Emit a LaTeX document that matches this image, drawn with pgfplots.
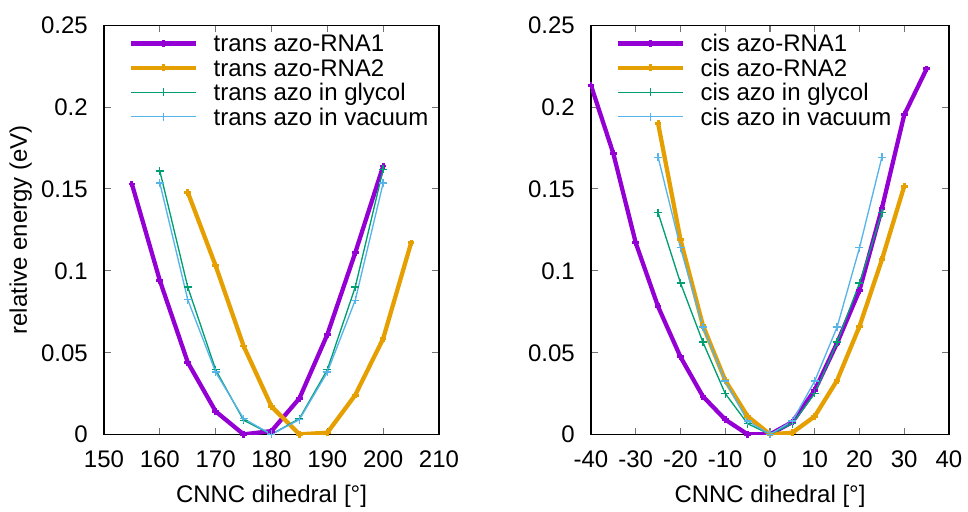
\documentclass[border=0pt]{standalone}
\usepackage{pgfplots}
\pgfplotsset{compat=1.18}
\usepackage{fontspec}
\setmainfont{Liberation Sans}

\definecolor{gpPurple}{RGB}{148,0,211}
\definecolor{gpOrange}{RGB}{230,159,0}
\definecolor{gpGreen}{RGB}{0,158,115}
\definecolor{gpBlue}{RGB}{86,180,233}

\pgfplotsset{
  gp/.style={
    scale only axis,
    height=306.75pt,
    ymin=0, ymax=0.25,
    ytick={0,0.05,0.1,0.15,0.2,0.25},
    yticklabels={0,0.05,0.1,0.15,0.2,0.25},
    font=\fontsize{18}{21.6}\selectfont,
    tick align=inside,
    major tick length=5pt,
    axis line style={line width=1pt},
    tick style={line width=0.8pt, black!55},
    xticklabel style={/pgf/number format/assume math mode=true, anchor=base, inner sep=0pt, yshift=-24.75pt},
    yticklabel style={anchor=base east, inner sep=0pt, xshift=-12pt, yshift=-6.45pt},
    xlabel style={at={(axis description cs:0.5,0)}, anchor=base, yshift=-51pt},
    xlabel={CNNC dihedral [°]},
    legend cell align=left,
    legend style={at={(axis description cs:0,1)}, anchor=north west,
      draw=none, fill=none, inner sep=0pt, outer sep=0pt,
      xshift=18.75pt, yshift=-7pt, row sep=0pt, column sep=11.25pt,
      nodes={inner sep=0pt, text height=13pt, text depth=5.3pt, anchor=base west},
      font=\fontsize{18}{21.6}\selectfont},
    legend image code/.code={\draw[mark repeat=2,mark phase=2,##1] plot coordinates {(0pt,6.45pt)(24.5pt,6.45pt)(49pt,6.45pt)};},
  },
  thickline/.style={line width=3.2pt, mark=+, mark size=2.5pt, mark options={solid, line width=2.2pt}},
  thinline/.style={line width=1pt, mark=+, mark size=3pt, mark options={solid, line width=1pt}},
}

\begin{document}
\begin{tikzpicture}
\path (-78pt,-54pt) rectangle (648pt,325.75pt);

\begin{axis}[gp,
  width=251.25pt,
  xmin=150, xmax=210, xtick={150,160,170,180,190,200,210},
  ylabel={relative energy (eV)},
  ylabel style={at={(axis description cs:-0.2299,0.5)}, anchor=base, rotate=0},
]
\addplot[gpPurple, thickline] coordinates {(155,0.153) (160,0.094) (165,0.044) (170,0.014) (175,0.0) (180,0.002) (185,0.022) (190,0.061) (195,0.111) (200,0.164)};
\addlegendentry{trans azo-RNA1}
\addplot[gpOrange, thickline] coordinates {(165,0.148) (170,0.103) (175,0.054) (180,0.017) (185,0.0) (190,0.001) (195,0.024) (200,0.0585) (205,0.117)};
\addlegendentry{trans azo-RNA2}
\addplot[gpGreen, thinline] coordinates {(160,0.161) (165,0.090) (170,0.0395) (175,0.0086) (180,0.0) (185,0.0096) (190,0.0395) (195,0.090) (200,0.162)};
\addlegendentry{trans azo in glycol}
\addplot[gpBlue, thinline] coordinates {(160,0.1536) (165,0.0823) (170,0.038) (175,0.0096) (180,0.0) (185,0.009) (190,0.038) (195,0.082) (200,0.1536)};
\addlegendentry{trans azo in vacuum}
\end{axis}

\begin{axis}[gp,
  at={(365.25pt,0pt)},
  width=268.5pt,
  xmin=-40, xmax=40, xtick={-40,-30,-20,-10,0,10,20,30,40},
]
\addplot[gpPurple, thickline] coordinates {(-40,0.2133) (-35,0.1715) (-30,0.117) (-25,0.078) (-20,0.0473) (-15,0.0232) (-10,0.009) (-5,0.0) (0,0.0) (5,0.0075) (10,0.027) (15,0.0558) (20,0.088) (25,0.138) (30,0.1953) (35,0.2234)};
\addlegendentry{cis azo-RNA1}
\addplot[gpOrange, thickline] coordinates {(-25,0.190) (-20,0.119) (-15,0.0666) (-10,0.033) (-5,0.011) (0,0.0) (5,0.001) (10,0.011) (15,0.033) (20,0.066) (25,0.1067) (30,0.1517)};
\addlegendentry{cis azo-RNA2}
\addplot[gpGreen, thinline] coordinates {(-25,0.1354) (-20,0.0925) (-15,0.0564) (-10,0.0249) (-5,0.0065) (0,0.0) (5,0.0065) (10,0.025) (15,0.0564) (20,0.0925) (25,0.1354)};
\addlegendentry{cis azo in glycol}
\addplot[gpBlue, thinline] coordinates {(-25,0.1694) (-20,0.114) (-15,0.0656) (-10,0.0326) (-5,0.0081) (0,0.0) (5,0.0081) (10,0.0326) (15,0.0656) (20,0.114) (25,0.1694)};
\addlegendentry{cis azo in vacuum}
\end{axis}
\end{tikzpicture}
\end{document}
